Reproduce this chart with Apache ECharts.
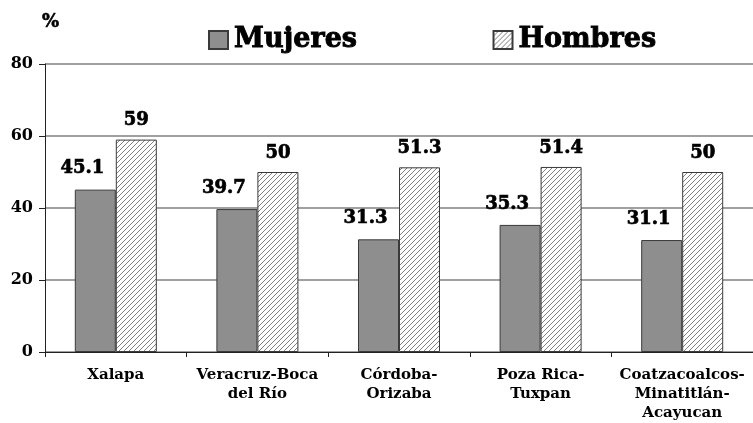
<!DOCTYPE html>
<html><head><meta charset="utf-8">
<script src="https://cdn.jsdelivr.net/npm/echarts@6/dist/echarts.min.js"></script>
<style>html,body{margin:0;padding:0;background:#fff}#c{width:753px;height:423px}</style>
</head><body><div id="c"></div>
<script>
var categories = ['Xalapa', 'Veracruz-Boca\ndel Río', 'Córdoba-\nOrizaba', 'Poza Rica-\nTuxpan', 'Coatzacoalcos-\nMinatitlán-\nAcayucan'];
var mujeres = [45.1, 39.7, 31.3, 35.3, 31.1];
var hombres = [59, 50, 51.3, 51.4, 50];
var yTicks = [0, 20, 40, 60, 80];

var FONT = '"DejaVu Serif", serif';
function hatch() {
  var c = document.createElement('canvas');
  c.width = 5; c.height = 5;
  var g = c.getContext('2d');
  g.fillStyle = '#ffffff'; g.fillRect(0, 0, 5, 5);
  g.strokeStyle = '#808080'; g.lineWidth = 1;
  g.beginPath();
  g.moveTo(-1, 6); g.lineTo(6, -1);
  g.moveTo(-3, 3); g.lineTo(3, -3);
  g.moveTo(2, 8); g.lineTo(8, 2);
  g.stroke();
  return c;
}
var chart = echarts.init(document.getElementById('c'), null, {renderer: 'canvas'});
chart.setOption({
  animation: false,
  title: {text: '%', left: 37, top: 8, textStyle: {fontFamily: FONT, fontWeight: 'bold', fontSize: 18, color: '#000', textBorderColor: '#000', textBorderWidth: 0.6}},
  legend: {
    left: 203, top: 21, itemWidth: 19, itemHeight: 18, itemGap: 135, icon: 'rect',
    textStyle: {fontFamily: FONT, fontWeight: 'bold', fontSize: 27, color: '#000', padding: [0, 0, 0, 1], textBorderColor: '#000', textBorderWidth: 0.9},
    data: ['Mujeres', 'Hombres']
  },
  grid: {left: 45, top: 64, width: 710, height: 293, containLabel: false},
  xAxis: {
    type: 'category', data: categories,
    axisLine: {lineStyle: {color: '#222', width: 1}},
    axisTick: {show: true, length: 5, lineStyle: {color: '#222'}},
    axisLabel: {fontFamily: FONT, fontWeight: 'bold', fontSize: 15, color: '#000', margin: 14, lineHeight: 19, interval: 0}
  },
  yAxis: {
    type: 'value', min: 0, max: 80, interval: 20,
    axisLine: {show: true, lineStyle: {color: '#222', width: 1}},
    axisTick: {show: true, length: 6, lineStyle: {color: '#222'}},
    axisLabel: {fontFamily: FONT, fontWeight: 'bold', fontSize: 16, color: '#000', margin: 12,
      formatter: function (v) { return yTicks.indexOf(v) >= 0 ? String(v) : ''; }},
    splitLine: {show: true, lineStyle: {color: '#808080', width: 1.5}}
  },
  series: [
    {
      name: 'Mujeres', type: 'bar', data: mujeres, barWidth: 41, barGap: '0%',
      itemStyle: {color: '#8e8e8e', borderColor: '#3a3a3a', borderWidth: 1},
      label: {show: true, position: 'top', distance: 12, offset: [-13, 0],
        fontFamily: FONT, fontWeight: 'bold', fontSize: 18, color: '#000', textBorderColor: '#000', textBorderWidth: 0.7}
    },
    {
      name: 'Hombres', type: 'bar', data: hombres, barWidth: 41, barGap: '0%',
      itemStyle: {color: {image: hatch(), repeat: 'repeat'}, borderColor: '#3a3a3a', borderWidth: 1},
      label: {show: true, position: 'top', distance: 10,
        fontFamily: FONT, fontWeight: 'bold', fontSize: 18, color: '#000', textBorderColor: '#000', textBorderWidth: 0.7}
    }
  ]
});
</script></body></html>
